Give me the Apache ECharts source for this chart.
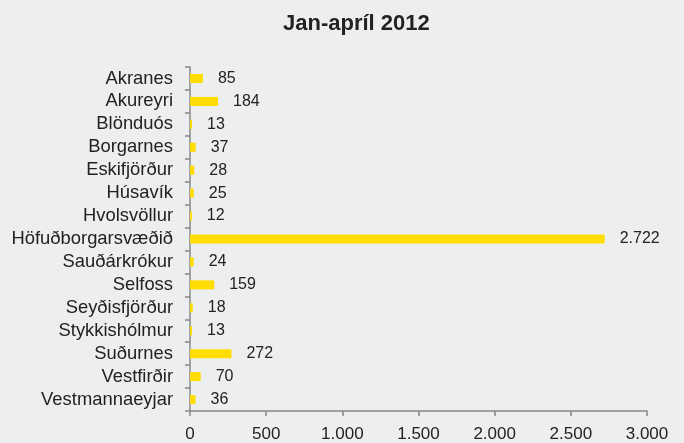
<!DOCTYPE html>
<html>
<head>
<meta charset="utf-8">
<script src="https://cdn.jsdelivr.net/npm/echarts@6/dist/echarts.min.js"></script>
<style>
  html, body { margin: 0; padding: 0; background: #eceef0; }
  #chart { width: 684px; height: 443px; }
</style>
</head>
<body>
<div id="chart"></div>
<script>
// staðir og fjöldi
var categories = ['Akranes', 'Akureyri', 'Blönduós', 'Borgarnes', 'Eskifjörður', 'Húsavík', 'Hvolsvöllur',
  'Höfuðborgarsvæðið', 'Sauðárkrókur', 'Selfoss', 'Seyðisfjörður', 'Stykkishólmur', 'Suðurnes', 'Vestfirðir', 'Vestmannaeyjar']
var values = [85, 184, 13, 37, 28, 25, 12, 2722, 24, 159, 18, 13, 272, 70, 36]

function fmt (v) {
  return String(v).replace(/\B(?=(\d{3})+(?!\d))/g, '.')
}

var myChart = echarts.init(document.getElementById('chart'))
var option = {
  backgroundColor: '#eceef0',
  textStyle: { fontFamily: 'Liberation Sans, Arial, sans-serif' },
  title: {
    text: 'Jan-apríl 2012',
    left: 278,
    top: 8,
    textStyle: { fontSize: 22, fontWeight: 'bold', color: '#222' }
  },
  grid: { left: 190, right: 37, top: 67, bottom: 29 },
  xAxis: {
    type: 'value',
    min: 0,
    max: 3000,
    interval: 500,
    splitLine: { show: false },
    axisLine: { show: true, lineStyle: { color: '#888', width: 1.5 } },
    axisTick: { show: true, length: 5, lineStyle: { color: '#888', width: 1.5 } },
    axisLabel: { fontSize: 17, color: '#222', margin: 15, formatter: fmt }
  },
  yAxis: {
    type: 'category',
    inverse: true,
    data: categories,
    axisLine: { show: true, lineStyle: { color: '#888', width: 1.5 } },
    axisTick: { show: true, length: 5, lineStyle: { color: '#888', width: 1.5 } },
    axisLabel: { fontSize: 18.4, color: '#222', margin: 17, interval: 0 }
  },
  series: [
    {
      type: 'bar',
      data: values,
      barWidth: 9,
      itemStyle: { color: '#ffdd00' },
      label: {
        show: true,
        position: 'right',
        distance: 15,
        fontSize: 16,
        color: '#222',
        formatter: function (p) { return fmt(p.value) }
      }
    }
  ]
}
myChart.setOption(option)
</script>
</body>
</html>
